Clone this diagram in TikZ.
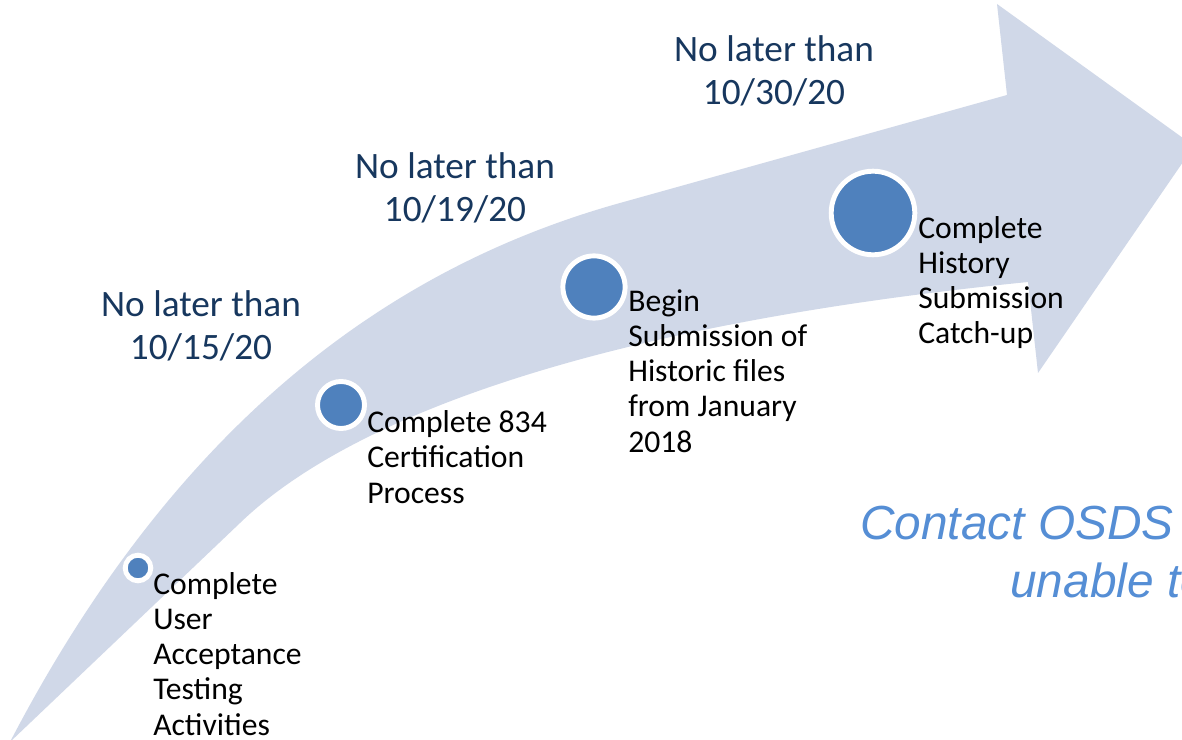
\documentclass[tikz,border=0pt]{standalone}
\usepackage{fontspec}
\setmainfont{Carlito}
\newfontfamily\notefont{Liberation Sans}
\usepackage{tikz}

\definecolor{shaftgray}{RGB}{208,216,232}
\definecolor{dotblue}{RGB}{79,129,189}
\definecolor{datenavy}{RGB}{23,55,94}
\definecolor{noteblue}{RGB}{85,142,213}

\tikzset{
  dot/.style={circle, fill=dotblue, draw=white, line width=3.5pt, inner sep=0pt},
  datelabel/.style={anchor=base, align=center, inner sep=0pt, text=datenavy,
    font=\fontsize{26.5}{31}\selectfont},
  steptext/.style={anchor=base west, align=left, inner sep=0pt,
    font=\fontsize{22.5}{24.9}\selectfont}
}

\begin{document}
\begin{tikzpicture}[x=0.025cm, y=-0.025cm]
        \clip (0,0) rectangle (1182,740);
        \fill [white] (0,0) rectangle (1182,740);

        % curved arrow
        \fill [shaftgray] (10,742) .. controls (175,425) and (387,268) .. (620,203)
              -- (1007,95) -- (997,4) -- (1194,146) -- (1038,373) -- (1028,282)
              .. controls (608,324) and (353,414) .. (240,523) -- cycle;

        % milestones
        \node [dot, minimum size=0.64cm]  (m1) at (138,568) {};
        \node [dot, minimum size=1.175cm] (m2) at (341,405) {};
        \node [dot, minimum size=1.555cm] (m3) at (594,287) {};
        \node [dot, minimum size=2.09cm]  (m4) at (873,213) {};

        % (base = last line)
        \node [steptext] (t1) at (153,735) {Complete\\User\\Acceptance\\Testing\\Activities};
        \node [steptext] (t2) at (367,503) {Complete 834\\Certification\\Process};
        \node [steptext] (t3) at (628,452) {Begin\\Submission of\\Historic files\\from January\\2018};
        \node [steptext] (t4) at (918,344) {Complete\\History\\Submission\\Catch-up};

        % dates
        \node [datelabel] (d1) at (201,360) {No later than\\10/15/20};
        \node [datelabel] (d2) at (455,222) {No later than\\10/19/20};
        \node [datelabel] (d3) at (774,105) {No later than\\10/30/20};

        \node [anchor=base west, inner sep=0pt, text=noteblue, font=\notefont\itshape\fontsize{34}{41}\selectfont]
              (n1) at (860,539) {Contact OSDS};
        \node [anchor=base west, inner sep=0pt, text=noteblue, font=\notefont\itshape\fontsize{34}{41}\selectfont]
              (n2) at (1010,597) {unable to};
      \end{tikzpicture}
\end{document}
